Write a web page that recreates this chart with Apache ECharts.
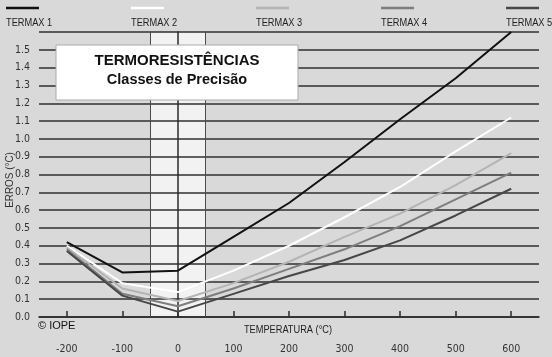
<!DOCTYPE html>
<html><head><meta charset="utf-8">
<script src="https://cdn.jsdelivr.net/npm/echarts@6/dist/echarts.min.js"></script>
<style>html,body{margin:0;padding:0;background:#d9d9d9}#c{width:552px;height:357px}</style>
</head><body><div id="c"></div>
<script>
// ---- data ----
const temperatures = [-200, -100, 0, 100, 200, 300, 400, 500, 600];
const termax1 = [0.42, 0.25, 0.26, 0.45, 0.64, 0.87, 1.11, 1.34, 1.60];
const termax2 = [0.40, 0.19, 0.14, 0.26, 0.40, 0.56, 0.73, 0.93, 1.12];
const termax3 = [0.39, 0.16, 0.09, 0.19, 0.31, 0.45, 0.58, 0.74, 0.92];
const termax4 = [0.38, 0.13, 0.06, 0.16, 0.27, 0.38, 0.51, 0.66, 0.81];
const termax5 = [0.37, 0.12, 0.03, 0.13, 0.23, 0.32, 0.43, 0.57, 0.72];
const seriesNames = ['TERMAX 1', 'TERMAX 2', 'TERMAX 3', 'TERMAX 4', 'TERMAX 5'];
const xTickValues = [-200, -100, 0, 100, 200, 300, 400, 500, 600];
const bandRange = [-50, 50];
const titleLines = ['TERMORESISTÊNCIAS', 'Classes de Precisão'];
const xAxisName = 'TEMPERATURA (°C)';
const yAxisName = 'ERROS (°C)';
const credit = '© IOPE';

// ---- styles ----
const allValues = [termax1, termax2, termax3, termax4, termax5];
const colors = ['#111111', '#ffffff', '#b4b4b4', '#7e7e7e', '#474747'];
const narrow = "'Liberation Sans Narrow', 'Arial Narrow', 'DejaVu Sans Condensed', 'Liberation Sans', Arial, sans-serif";
const regular = "'Liberation Sans', Arial, sans-serif";

const series = allValues.map((vals, i) => ({
  name: seriesNames[i],
  type: 'line',
  data: temperatures.map((t, j) => [t, vals[j]]),
  symbol: 'none',
  smooth: false,
  z: 5,
  lineStyle: { color: colors[i], width: 2 }
}));
series.unshift({
  type: 'line', data: [], z: 1, silent: true,
  markArea: { silent: true, itemStyle: { color: '#f2f2f2' },
    data: [[{ xAxis: bandRange[0] }, { xAxis: bandRange[1] }]] },
  markLine: { silent: true, symbol: 'none', label: { show: false },
    lineStyle: { color: '#4a4a4a', width: 1, type: 'solid' },
    data: bandRange.map(v => ({ xAxis: v })) }
});

const legendGraphics = [];
seriesNames.forEach((n, i) => {
  const x0 = 6 + 125 * i;
  legendGraphics.push({ type: 'line', z: 10, shape: { x1: x0, y1: 8, x2: x0 + 33, y2: 8 },
    style: { stroke: colors[i], lineWidth: 2.5 } });
  legendGraphics.push({ type: 'text', z: 10, x: x0, y: 17, scaleX: 0.84,
    style: { text: n, font: '11px ' + regular, fill: '#222' } });
});

const chart = echarts.init(document.getElementById('c'), null, { renderer: 'canvas' });
chart.setOption({
  backgroundColor: '#d9d9d9',
  animation: false,
  textStyle: { fontFamily: narrow },
  grid: { left: 39, right: 13, top: 32, bottom: 40, containLabel: false, outerBoundsMode: 'none' },
  xAxis: {
    type: 'value', min: -250, max: 650, interval: 50, z: 3,
    axisLine: { show: true, lineStyle: { color: '#2a2a2a', width: 1.5 } },
    axisTick: { show: true, inside: true, length: 6, customValues: xTickValues,
      lineStyle: { color: '#2a2a2a', width: 1.5 } },
    axisLabel: { customValues: xTickValues, margin: 27, fontSize: 10.5, color: '#333', fontFamily: narrow },
    splitLine: { show: false }
  },
  yAxis: {
    type: 'value', min: 0, max: 1.6, interval: 0.1, z: 3,
    axisLine: { show: true, lineStyle: { color: '#2a2a2a', width: 1.5 } },
    axisTick: { show: false },
    axisLabel: { margin: 9, fontSize: 10.5, color: '#333', fontFamily: narrow,
      formatter: v => (v > 1.55 ? '' : v.toFixed(1)) },
    splitLine: { show: true, lineStyle: { color: '#2f2f2f', width: 1.5 } }
  },
  graphic: [
    { type: 'rect', z: 10, shape: { x: 56, y: 45, width: 242, height: 55 },
      style: { fill: '#ffffff', stroke: '#aaaaaa', lineWidth: 1 } },
    { type: 'text', z: 11, x: 177, y: 61,
      style: { text: titleLines[0], font: 'bold 15px ' + regular, fill: '#111', align: 'center', verticalAlign: 'middle' } },
    { type: 'text', z: 11, x: 177, y: 80,
      style: { text: titleLines[1], font: 'bold 14.5px ' + regular, fill: '#111', align: 'center', verticalAlign: 'middle' } },
    { type: 'text', z: 10, x: 288, y: 330, scaleX: 0.84,
      style: { text: xAxisName, font: '11px ' + regular, fill: '#222', align: 'center', verticalAlign: 'middle' } },
    { type: 'text', z: 10, x: 10, y: 180, rotation: Math.PI / 2, scaleX: 0.9,
      style: { text: yAxisName, font: '11px ' + regular, fill: '#333', align: 'center', verticalAlign: 'middle' } },
    { type: 'text', z: 10, x: 38, y: 326,
      style: { text: credit, font: '11px ' + regular, fill: '#111', align: 'left', verticalAlign: 'middle' } }
  ].concat(legendGraphics),
  series: series
});
</script></body></html>
